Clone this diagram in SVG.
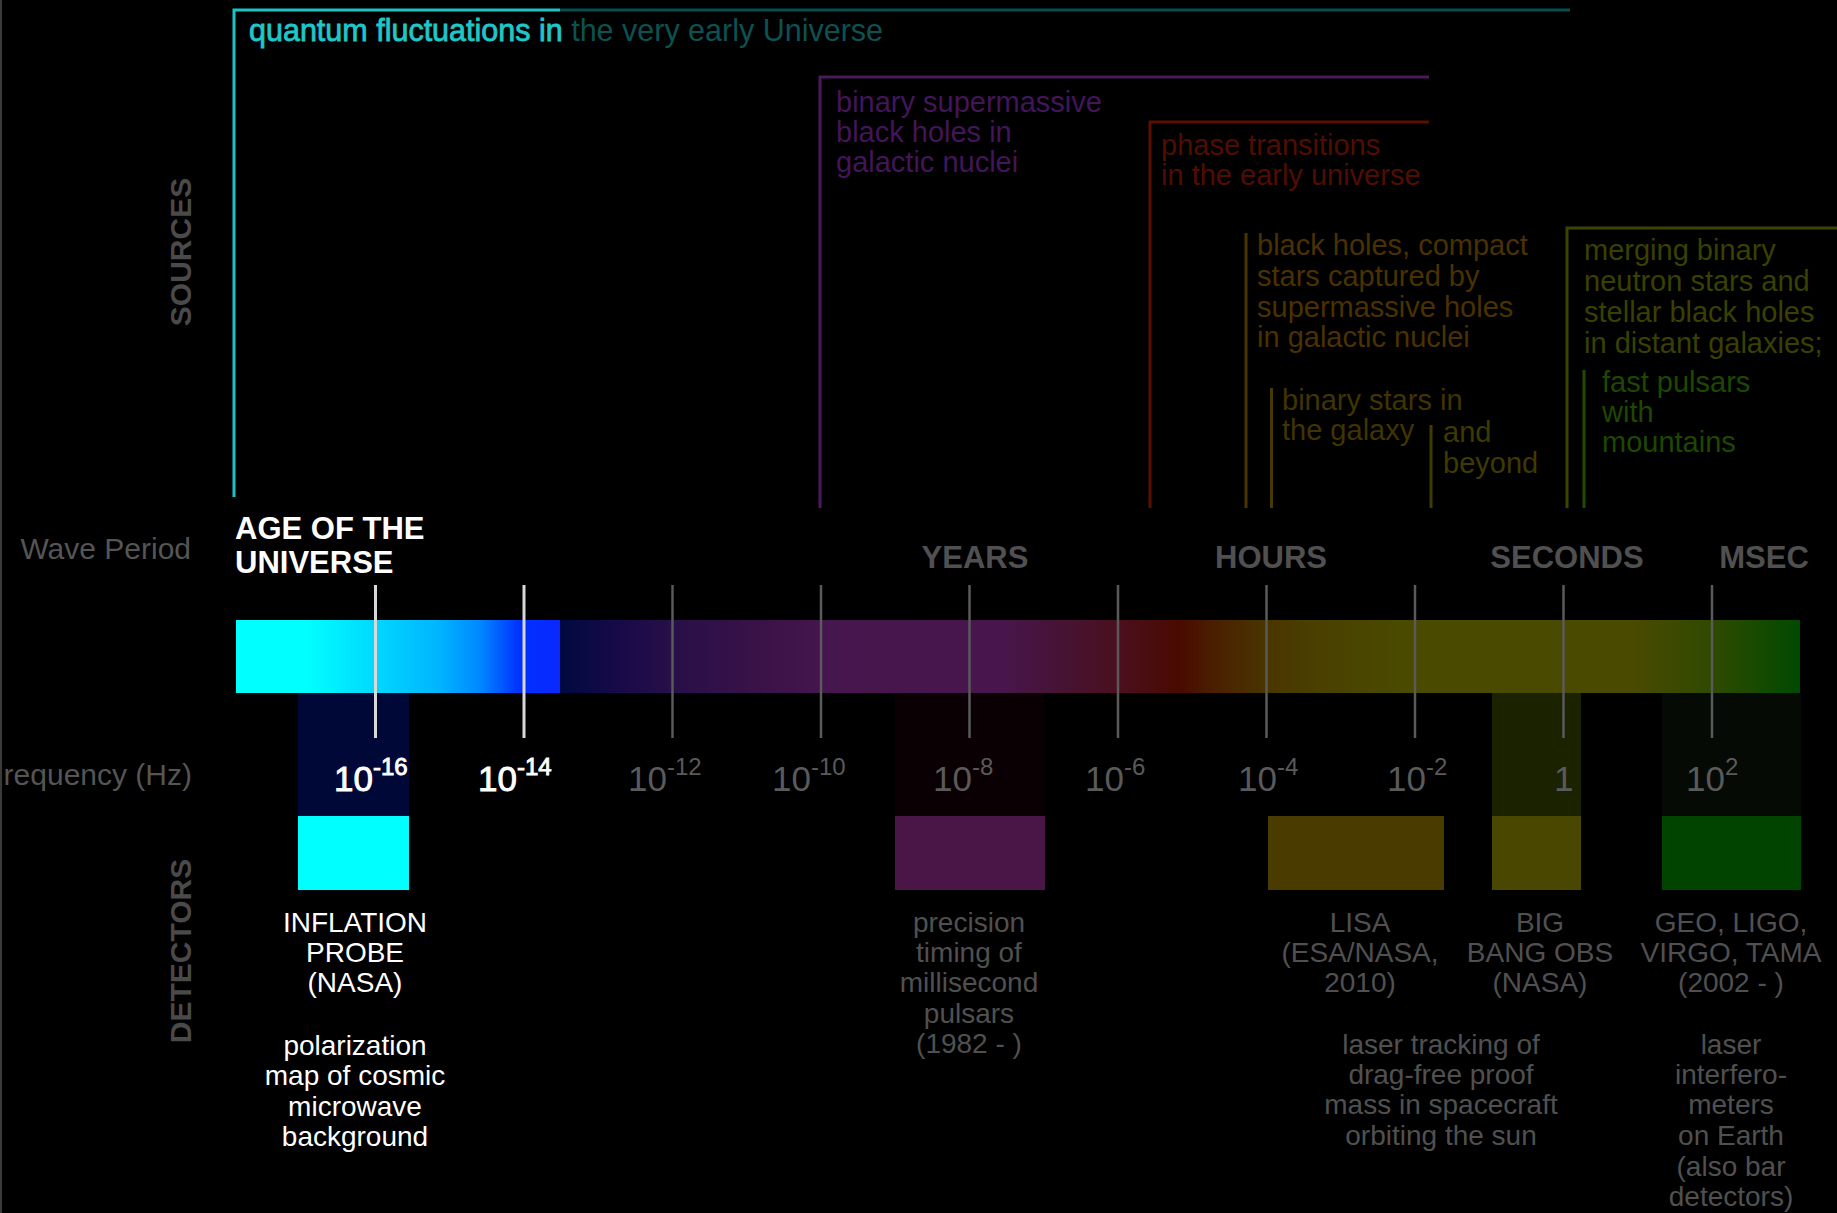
<svg xmlns="http://www.w3.org/2000/svg" width="1837" height="1213" viewBox="0 0 1837 1213">
<defs>
<linearGradient id="spec" gradientUnits="userSpaceOnUse" x1="236" y1="0" x2="1800" y2="0">
<stop offset="0" stop-color="#00ffff"/>
<stop offset="0.0448" stop-color="#00ffff"/>
<stop offset="0.0889" stop-color="#00d8ff"/>
<stop offset="0.1304" stop-color="#00b4ff"/>
<stop offset="0.156" stop-color="#0088ff"/>
<stop offset="0.1816" stop-color="#0030ff"/>
<stop offset="0.2072" stop-color="#0a28ff"/>
<stop offset="0.2073" stop-color="#000a40"/>
<stop offset="0.2455" stop-color="#180a48"/>
<stop offset="0.2839" stop-color="#2a1048"/>
<stop offset="0.335" stop-color="#3a1248"/>
<stop offset="0.3798" stop-color="#46164e"/>
<stop offset="0.4885" stop-color="#48164c"/>
<stop offset="0.5205" stop-color="#461438"/>
<stop offset="0.562" stop-color="#4a1020"/>
<stop offset="0.6036" stop-color="#4a0a00"/>
<stop offset="0.626" stop-color="#4a2000"/>
<stop offset="0.6598" stop-color="#4a3600"/>
<stop offset="0.6995" stop-color="#4a4200"/>
<stop offset="0.7442" stop-color="#4a4a00"/>
<stop offset="0.8932" stop-color="#4a4a00"/>
<stop offset="0.9457" stop-color="#2e4a00"/>
<stop offset="1" stop-color="#004a00"/>
</linearGradient>
<style>
text { font-family: "Liberation Sans", Arial, sans-serif; }
.src { font-size: 29px; }
.det { font-size: 28px; fill: #505050; text-anchor: middle; }
.unit { font-weight: bold; font-size: 31px; fill: #505050; text-anchor: middle; }
.side { font-weight: bold; font-size: 30px; fill: #4a4a4a; text-anchor: middle; }
.lab { font-size: 30px; fill: #555555; text-anchor: end; }
.freq { font-size: 35px; fill: #5a5a5a; }
.sup { font-size: 24px; }
text.white { fill: #ffffff; }
text.freq.white { stroke: #ffffff; stroke-width: 0.9; }
.tick { stroke: #5a5a5a; stroke-width: 2.5; }
.tickw { stroke: #d8d8d8; stroke-width: 3; }
.frame { fill: none; stroke-width: 3; }
</style>
</defs>
<rect x="0" y="0" width="1837" height="1213" fill="#000000"/>
<line x1="1" y1="0" x2="1" y2="1213" stroke="#3a3a3a" stroke-width="2"/>

<g id="side-labels">
<text class="side" transform="translate(191,252) rotate(-90)">SOURCES</text>
<text class="side" transform="translate(191,951) rotate(-90)">DETECTORS</text>
<text class="lab" x="191" y="559">Wave Period</text>
<text class="lab" x="192" y="785">requency (Hz)</text>
</g>

<g id="connectors">
<path class="frame" d="M234,497 V10 H560" stroke="#1bc4c4"/>
<line x1="560" y1="10" x2="1570" y2="10" stroke="#0a4f50" stroke-width="3"/>
<path class="frame" d="M820,508 V77 H1429" stroke="#4a1a5c"/>
<path class="frame" d="M1150,508 V122 H1429" stroke="#5a1000"/>
<line x1="1246" y1="233" x2="1246" y2="508" stroke="#4a3400" stroke-width="3"/>
<line x1="1271.5" y1="388" x2="1271.5" y2="508" stroke="#463a00" stroke-width="3"/>
<line x1="1431" y1="425" x2="1431" y2="508" stroke="#403c00" stroke-width="3"/>
<path class="frame" d="M1567,508 V228 H1837" stroke="#3e4400"/>
<line x1="1584" y1="370" x2="1584" y2="508" stroke="#224a00" stroke-width="3"/>
</g>

<g id="src-quantum">
<text x="249" y="41" font-size="30.5"><tspan fill="#1ec8c8" stroke="#1ec8c8" stroke-width="0.8">quantum fluctuations in </tspan><tspan fill="#0c5252">the very early Universe</tspan></text>
</g>
<g id="src-smbh" fill="#43155a">
<text class="src" x="836" y="112">binary supermassive</text>
<text class="src" x="836" y="142">black holes in</text>
<text class="src" x="836" y="172">galactic nuclei</text>
</g>
<g id="src-phase" fill="#4f0e00">
<text class="src" x="1161" y="155">phase transitions</text>
<text class="src" x="1161" y="185">in the early universe</text>
</g>
<g id="src-emri" fill="#4a3200">
<text class="src" x="1257" y="255">black holes, compact</text>
<text class="src" x="1257" y="286">stars captured by</text>
<text class="src" x="1257" y="317">supermassive holes</text>
<text class="src" x="1257" y="347">in galactic nuclei</text>
</g>
<g id="src-binary" fill="#403400">
<text class="src" x="1282" y="410">binary stars in</text>
<text class="src" x="1282" y="440">the galaxy</text>
</g>
<g id="src-beyond" fill="#3e3a00">
<text class="src" x="1443" y="442">and</text>
<text class="src" x="1443" y="473">beyond</text>
</g>
<g id="src-merging" fill="#3a4000">
<text class="src" x="1584" y="260">merging binary</text>
<text class="src" x="1584" y="291">neutron stars and</text>
<text class="src" x="1584" y="322">stellar black holes</text>
<text class="src" x="1584" y="353">in distant galaxies;</text>
</g>
<g id="src-pulsars" fill="#1e4800">
<text class="src" x="1602" y="392">fast pulsars</text>
<text class="src" x="1602" y="422">with</text>
<text class="src" x="1602" y="452">mountains</text>
</g>

<g id="period-labels">
<text x="235" y="539" font-weight="bold" font-size="31" fill="#ffffff">AGE OF THE</text>
<text x="235" y="573" font-weight="bold" font-size="31" fill="#ffffff">UNIVERSE</text>
<text class="unit" x="975" y="568">YEARS</text>
<text class="unit" x="1271" y="568">HOURS</text>
<text class="unit" x="1567" y="568">SECONDS</text>
<text class="unit" x="1764" y="568">MSEC</text>
</g>

<g id="detector-columns">
<rect x="298" y="693" width="111" height="123" fill="#000838"/>
<rect x="895" y="693" width="149" height="123" fill="#0a0004"/>
<rect x="1492" y="693" width="89" height="123" fill="#1a2200"/>
<rect x="1662" y="693" width="139" height="123" fill="#050a05"/>
</g>

<g id="spectrum">
<rect x="236" y="620" width="1564" height="73" fill="url(#spec)"/>
</g>

<g id="ticks">
<line class="tickw" x1="375.5" y1="585" x2="375.5" y2="738"/>
<line class="tickw" x1="524" y1="585" x2="524" y2="738"/>
<line class="tick" x1="672.5" y1="585" x2="672.5" y2="738"/>
<line class="tick" x1="821" y1="585" x2="821" y2="738"/>
<line class="tick" x1="969.5" y1="585" x2="969.5" y2="738"/>
<line class="tick" x1="1118" y1="585" x2="1118" y2="738"/>
<line class="tick" x1="1266.5" y1="585" x2="1266.5" y2="738"/>
<line class="tick" x1="1415" y1="585" x2="1415" y2="738"/>
<line class="tick" x1="1563.5" y1="585" x2="1563.5" y2="738"/>
<line class="tick" x1="1712" y1="585" x2="1712" y2="738"/>
</g>

<g id="freq-labels">
<text class="freq white" x="334" y="791">10<tspan class="sup" dy="-16">-16</tspan></text>
<text class="freq white" x="478" y="791">10<tspan class="sup" dy="-16">-14</tspan></text>
<text class="freq" x="628" y="791">10<tspan class="sup" dy="-16">-12</tspan></text>
<text class="freq" x="772" y="791">10<tspan class="sup" dy="-16">-10</tspan></text>
<text class="freq" x="933" y="791">10<tspan class="sup" dy="-16">-8</tspan></text>
<text class="freq" x="1085" y="791">10<tspan class="sup" dy="-16">-6</tspan></text>
<text class="freq" x="1238" y="791">10<tspan class="sup" dy="-16">-4</tspan></text>
<text class="freq" x="1387" y="791">10<tspan class="sup" dy="-16">-2</tspan></text>
<text class="freq" x="1554" y="791">1</text>
<text class="freq" x="1686" y="791">10<tspan class="sup" dy="-16">2</tspan></text>
</g>

<g id="det-inflation">
<rect x="298" y="816" width="111" height="74" fill="#00ffff"/>
<text class="det white" x="355" y="932">INFLATION</text>
<text class="det white" x="355" y="962">PROBE</text>
<text class="det white" x="355" y="992">(NASA)</text>
<text class="det white" x="355" y="1055">polarization</text>
<text class="det white" x="355" y="1085">map of cosmic</text>
<text class="det white" x="355" y="1116">microwave</text>
<text class="det white" x="355" y="1146">background</text>
</g>
<g id="det-pulsar">
<rect x="895" y="816" width="150" height="74" fill="#4a1648"/>
<text class="det" x="969" y="932">precision</text>
<text class="det" x="969" y="962">timing of</text>
<text class="det" x="969" y="992">millisecond</text>
<text class="det" x="969" y="1023">pulsars</text>
<text class="det" x="969" y="1053">(1982 - )</text>
</g>
<g id="det-lisa">
<rect x="1268" y="816" width="176" height="74" fill="#4a3c00"/>
<text class="det" x="1360" y="932">LISA</text>
<text class="det" x="1360" y="962">(ESA/NASA,</text>
<text class="det" x="1360" y="992">2010)</text>
<text class="det" x="1441" y="1054">laser tracking of</text>
<text class="det" x="1441" y="1084">drag-free proof</text>
<text class="det" x="1441" y="1114">mass in spacecraft</text>
<text class="det" x="1441" y="1145">orbiting the sun</text>
</g>
<g id="det-bbo">
<rect x="1492" y="816" width="89" height="74" fill="#4a4800"/>
<text class="det" x="1540" y="932">BIG</text>
<text class="det" x="1540" y="962">BANG OBS</text>
<text class="det" x="1540" y="992">(NASA)</text>
</g>
<g id="det-ligo">
<rect x="1662" y="816" width="139" height="74" fill="#004400"/>
<text class="det" x="1731" y="932">GEO, LIGO,</text>
<text class="det" x="1731" y="962">VIRGO, TAMA</text>
<text class="det" x="1731" y="992">(2002 - )</text>
<text class="det" x="1731" y="1054">laser</text>
<text class="det" x="1731" y="1084">interfero-</text>
<text class="det" x="1731" y="1114">meters</text>
<text class="det" x="1731" y="1145">on Earth</text>
<text class="det" x="1731" y="1176">(also bar</text>
<text class="det" x="1731" y="1206">detectors)</text>
</g>
</svg>
